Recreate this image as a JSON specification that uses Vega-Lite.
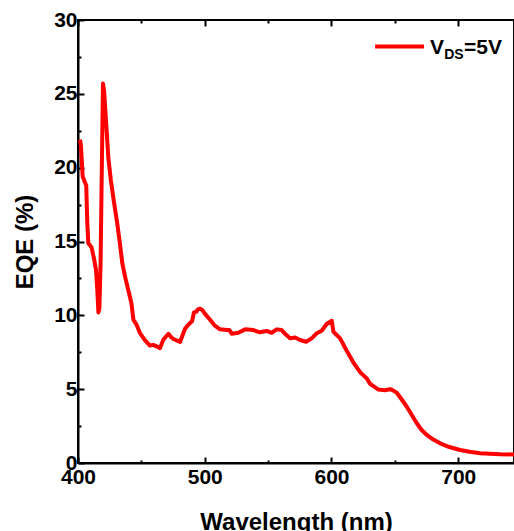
{
  "$schema": "https://vega.github.io/schema/vega-lite/v6.json",
  "width": 436,
  "height": 443,
  "autosize": {"type": "none"},
  "padding": {"left": 78, "top": 20, "right": 0, "bottom": 68},
  "background": "white",
  "config": {
    "view": {"stroke": "black", "strokeWidth": 2},
    "axis": {
      "grid": false,
      "domainColor": "black",
      "domainWidth": 2,
      "tickColor": "black",
      "tickWidth": 2,
      "labelFont": "Liberation Sans",
      "labelFontWeight": "bold",
      "labelFontSize": 21,
      "labelColor": "black",
      "titleFont": "Liberation Sans",
      "titleFontWeight": "bold",
      "titleColor": "black",
      "labelOverlap": false,
      "labelFlush": false
    }
  },
  "datasets": {
    "eqe": [
      {"wavelength": 401.6, "eqe": 21.9},
      {"wavelength": 402.3, "eqe": 21.5},
      {"wavelength": 403.7, "eqe": 19.4},
      {"wavelength": 405.5, "eqe": 19.0},
      {"wavelength": 406.5, "eqe": 18.8},
      {"wavelength": 407.3, "eqe": 16.3},
      {"wavelength": 408.1, "eqe": 14.9},
      {"wavelength": 410.7, "eqe": 14.6},
      {"wavelength": 412.5, "eqe": 13.9},
      {"wavelength": 414.2, "eqe": 13.1},
      {"wavelength": 415.3, "eqe": 11.6},
      {"wavelength": 416.1, "eqe": 10.2},
      {"wavelength": 416.9, "eqe": 10.5},
      {"wavelength": 417.8, "eqe": 13.5},
      {"wavelength": 418.8, "eqe": 20.0},
      {"wavelength": 419.7, "eqe": 25.7},
      {"wavelength": 420.6, "eqe": 25.2},
      {"wavelength": 422.0, "eqe": 23.3},
      {"wavelength": 424.0, "eqe": 20.6},
      {"wavelength": 426.0, "eqe": 19.1},
      {"wavelength": 428.5, "eqe": 17.6},
      {"wavelength": 431.0, "eqe": 16.2},
      {"wavelength": 433.0, "eqe": 14.9},
      {"wavelength": 435.0, "eqe": 13.5},
      {"wavelength": 437.2, "eqe": 12.6},
      {"wavelength": 440.0, "eqe": 11.6},
      {"wavelength": 442.2, "eqe": 10.8},
      {"wavelength": 443.7, "eqe": 9.7},
      {"wavelength": 446.3, "eqe": 9.35},
      {"wavelength": 448.9, "eqe": 8.8},
      {"wavelength": 452.9, "eqe": 8.3},
      {"wavelength": 456.8, "eqe": 7.95},
      {"wavelength": 459.4, "eqe": 8.0},
      {"wavelength": 462.0, "eqe": 7.9},
      {"wavelength": 464.7, "eqe": 7.78},
      {"wavelength": 467.3, "eqe": 8.35},
      {"wavelength": 471.3, "eqe": 8.75},
      {"wavelength": 473.2, "eqe": 8.55},
      {"wavelength": 475.2, "eqe": 8.4},
      {"wavelength": 480.5, "eqe": 8.2},
      {"wavelength": 484.5, "eqe": 9.1},
      {"wavelength": 488.0, "eqe": 9.45},
      {"wavelength": 490.0, "eqe": 9.6},
      {"wavelength": 491.5, "eqe": 10.2},
      {"wavelength": 493.5, "eqe": 10.25},
      {"wavelength": 494.6, "eqe": 10.4},
      {"wavelength": 496.3, "eqe": 10.45},
      {"wavelength": 498.2, "eqe": 10.35},
      {"wavelength": 500.2, "eqe": 10.1},
      {"wavelength": 504.2, "eqe": 9.7},
      {"wavelength": 508.0, "eqe": 9.3},
      {"wavelength": 512.0, "eqe": 9.05},
      {"wavelength": 517.4, "eqe": 9.0},
      {"wavelength": 519.5, "eqe": 9.0},
      {"wavelength": 521.3, "eqe": 8.75},
      {"wavelength": 526.5, "eqe": 8.82},
      {"wavelength": 531.8, "eqe": 9.05},
      {"wavelength": 538.4, "eqe": 9.0},
      {"wavelength": 543.6, "eqe": 8.85},
      {"wavelength": 548.9, "eqe": 8.94},
      {"wavelength": 552.8, "eqe": 8.82},
      {"wavelength": 556.8, "eqe": 9.05},
      {"wavelength": 560.7, "eqe": 9.0},
      {"wavelength": 564.0, "eqe": 8.7},
      {"wavelength": 567.3, "eqe": 8.45},
      {"wavelength": 571.3, "eqe": 8.5},
      {"wavelength": 575.2, "eqe": 8.33},
      {"wavelength": 580.0, "eqe": 8.21},
      {"wavelength": 584.4, "eqe": 8.44},
      {"wavelength": 588.3, "eqe": 8.78},
      {"wavelength": 592.3, "eqe": 8.96},
      {"wavelength": 596.2, "eqe": 9.41},
      {"wavelength": 600.2, "eqe": 9.63},
      {"wavelength": 601.5, "eqe": 8.89},
      {"wavelength": 606.8, "eqe": 8.44},
      {"wavelength": 612.0, "eqe": 7.6},
      {"wavelength": 617.3, "eqe": 6.8},
      {"wavelength": 622.6, "eqe": 6.15},
      {"wavelength": 627.8, "eqe": 5.73},
      {"wavelength": 630.5, "eqe": 5.35},
      {"wavelength": 633.1, "eqe": 5.2},
      {"wavelength": 637.0, "eqe": 4.97},
      {"wavelength": 642.0, "eqe": 4.93},
      {"wavelength": 646.3, "eqe": 5.0},
      {"wavelength": 648.5, "eqe": 4.92},
      {"wavelength": 651.5, "eqe": 4.76},
      {"wavelength": 655.0, "eqe": 4.35},
      {"wavelength": 659.4, "eqe": 3.81},
      {"wavelength": 663.0, "eqe": 3.3},
      {"wavelength": 667.3, "eqe": 2.69},
      {"wavelength": 671.0, "eqe": 2.25},
      {"wavelength": 675.2, "eqe": 1.9},
      {"wavelength": 680.0, "eqe": 1.6},
      {"wavelength": 685.7, "eqe": 1.33},
      {"wavelength": 693.0, "eqe": 1.08},
      {"wavelength": 701.5, "eqe": 0.88},
      {"wavelength": 709.0, "eqe": 0.76},
      {"wavelength": 717.3, "eqe": 0.66},
      {"wavelength": 725.0, "eqe": 0.62},
      {"wavelength": 733.1, "eqe": 0.59},
      {"wavelength": 744.0, "eqe": 0.58}
    ],
    "series": [{"series": "VDS=5V"}]
  },
  "layer": [
    {
      "data": {"name": "eqe"},
      "mark": {"type": "line", "color": "#ff0000", "strokeWidth": 4, "strokeJoin": "round", "clip": true},
      "encoding": {
        "x": {
          "field": "wavelength",
          "type": "quantitative",
          "scale": {"domain": [400, 744], "nice": false, "zero": false},
          "axis": {
            "orient": "bottom",
            "title": "Wavelength (nm)",
            "titleFontSize": 24,
            "titleBaseline": "alphabetic",
            "titleY": 66,
            "values": [400, 450, 500, 550, 600, 650, 700],
            "labelExpr": "datum.value % 100 === 0 ? datum.label : ''",
            "tickSize": {"condition": {"test": "datum.value % 100 === 0", "value": -6}, "value": -3},
            "labelPadding": 9
          }
        },
        "y": {
          "field": "eqe",
          "type": "quantitative",
          "scale": {"domain": [0, 30], "nice": false},
          "axis": {
            "orient": "left",
            "title": "EQE (%)",
            "titleFontSize": 24,
            "titleBaseline": "alphabetic",
            "titleX": -46,
            "values": [0, 2.5, 5, 7.5, 10, 12.5, 15, 17.5, 20, 22.5, 25, 27.5, 30],
            "labelExpr": "datum.value % 5 === 0 ? datum.label : ''",
            "tickSize": {"condition": {"test": "datum.value % 5 === 0", "value": -6}, "value": -3},
            "labelPadding": 7
          }
        }
      }
    },
    {
      "data": {"name": "series"},
      "mark": {"type": "rule", "color": "#ff0000", "strokeWidth": 4},
      "encoding": {
        "x": {
          "datum": 634.4,
          "type": "quantitative",
          "axis": {
            "orient": "top",
            "title": null,
            "labels": false,
            "domain": false,
            "values": [400, 450, 500, 550, 600, 650, 700],
            "tickSize": {"condition": {"test": "datum.value % 100 === 0", "value": -6}, "value": -3}
          }
        },
        "x2": {"datum": 673.0},
        "y": {"datum": 28.2, "type": "quantitative", "axis": null}
      }
    },
    {
      "data": {"name": "series"},
      "mark": {"type": "text", "align": "left", "baseline": "alphabetic", "font": "Liberation Sans", "fontWeight": "bold", "fontSize": 21, "color": "black", "text": "V"},
      "encoding": {
        "x": {"datum": 677.8, "type": "quantitative", "axis": null},
        "y": {"datum": 27.69, "type": "quantitative", "axis": null}
      }
    },
    {
      "data": {"name": "series"},
      "mark": {"type": "text", "align": "left", "baseline": "alphabetic", "font": "Liberation Sans", "fontWeight": "bold", "fontSize": 14, "color": "black", "text": "DS"},
      "encoding": {
        "x": {"datum": 688.9, "type": "quantitative", "axis": null},
        "y": {"datum": 27.35, "type": "quantitative", "axis": null}
      }
    },
    {
      "data": {"name": "series"},
      "mark": {"type": "text", "align": "left", "baseline": "alphabetic", "font": "Liberation Sans", "fontWeight": "bold", "fontSize": 21, "color": "black", "text": "=5V"},
      "encoding": {
        "x": {"datum": 704.6, "type": "quantitative", "axis": null},
        "y": {"datum": 27.69, "type": "quantitative", "axis": null}
      }
    }
  ],
  "resolve": {"axis": {"x": "independent", "y": "independent"}}
}
